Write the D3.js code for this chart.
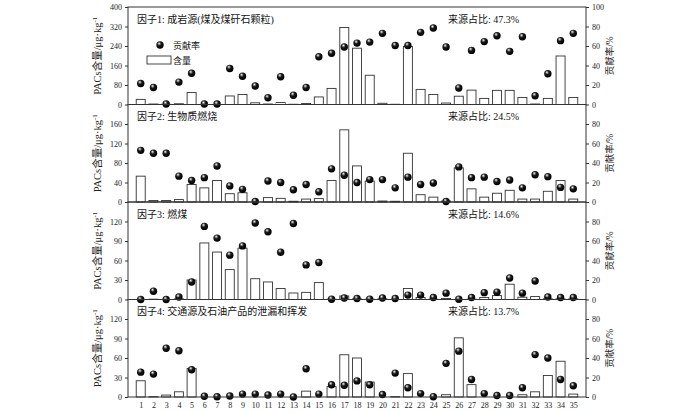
<!DOCTYPE html>
<html>
<head>
<meta charset="utf-8">
<script src="https://cdn.jsdelivr.net/npm/d3@7/dist/d3.min.js"></script>
<style>
  body { margin: 0; background: #fff; }
  text { font-family: "Liberation Serif", "Noto Sans CJK SC", serif; }
</style>
</head>
<body>
<div id="chart"></div>
<script>
// samples 1..35
const samples = [1, 2, 3, 4, 5, 6, 7, 8, 9, 10, 11, 12, 13, 14, 15, 16, 17, 18,
  19, 20, 21, 22, 23, 24, 25, 26, 27, 28, 29, 30, 31, 32, 33, 34, 35];

const factorNames = [
  '因子1: 成岩源(煤及煤矸石颗粒)',
  '因子2: 生物质燃烧',
  '因子3: 燃煤',
  '因子4: 交通源及石油产品的泄漏和挥发'
];
const sourceShares = ['47.3%', '24.5%', '14.6%', '13.7%'];

// PACs content, ug/kg (bars)
const content1 = [21, 2, 1, 3, 49, 0, 0, 35, 41, 7, 2, 8, 1, 4, 31, 66, 316, 231, 120, 5,
  1, 238, 62, 41, 6, 34, 59, 25, 58, 58, 29, 2, 25, 199, 29];
const content2 = [53, 3, 3, 5, 36, 29, 44, 17, 19, 0, 9, 7.5, 1.5, 6, 7, 44, 148, 74, 43, 2,
  1.5, 100, 15, 10, 2, 70, 27, 10, 18, 24, 6, 6, 22, 44, 6];
const content3 = [0, 0.5, 0, 1, 30, 87, 73, 46, 79, 32, 27, 17, 10, 11, 26, 0.5, 5.5, 1, 0.5, 1,
  0, 17, 3, 0.5, 1.5, 0, 0.5, 3, 6, 23.5, 3.5, 4.5, 1, 1, 1];
const content4 = [25, 0.5, 3, 8, 44, 0, 0, 0, 0, 0, 0, 0, 0, 9, 0, 16, 65, 60, 23, 0,
  0.5, 36, 0, 0, 3.5, 91, 19, 0, 0, 0, 3.5, 8, 33, 55, 4.5];

// contribution rate, % (balls)
const rate1 = [21.5, 17.5, 0.5, 23, 32, 0.5, 0.5, 37, 29, 19, 7, 28.5, 9.5, 17.5, 49, 52.5, 59, 63, 64, 73,
  60.5, 60.5, 74, 78.5, 59, 17, 55.5, 64.5, 70.5, 54.5, 69.5, 9, 31.5, 65.5, 73];
const rate2 = [53, 50, 50, 26.5, 22, 25, 37, 16.5, 13, 0.5, 21.5, 20, 12.5, 18, 10.5, 34, 27.5, 20, 23, 23,
  14.5, 25.5, 18, 19.5, 0.5, 36, 25, 25.5, 21, 22.5, 14.5, 28, 26, 15, 13.5];
const rate3 = [0, 8.5, 0, 2.5, 18, 75, 63, 45.5, 55, 78.5, 69.5, 48.5, 78, 35.5, 38, 0.3, 1.5, 1, 0.3, 1.5,
  1, 4.5, 4.5, 2, 6.5, 0.3, 2, 7, 7.5, 22, 6.5, 19, 2.5, 2, 2];
const rate4 = [25.5, 23.5, 50, 47.5, 28, 0.7, 0.3, 1, 3, 3, 2, 3, 0, 29, 3, 12.5, 12, 16.5, 12.5, 2.5,
  24.5, 9.5, 3.5, 0.3, 34.5, 47, 18, 3.5, 1.5, 1.5, 9.5, 43.5, 40, 18, 11.5];

const contents = [content1, content2, content3, content4];
const rates = [rate1, rate2, rate3, rate4];

// left axis (content) maximum and tick step per panel
const leftMax = [400, 200, 150, 150];
const leftStep = [80, 40, 30, 30];
const rightTicks = [0, 20, 40, 60, 80, 100];

const width = 700;
const height = 412;
const plotLeft = 128;
const plotRight = 586;
const plotTop = 7;
const panelH = 97.5;

const svg = d3.select('#chart')
  .append('svg')
  .attr('width', width)
  .attr('height', height);

/* ball shading */
const grad = svg.append('defs')
  .append('radialGradient')
  .attr('id', 'ball')
  .attr('cx', '40%').attr('cy', '35%').attr('r', '60%')
  .attr('fx', '38%').attr('fy', '30%');
grad.append('stop').attr('offset', '0%').attr('stop-color', '#ffffff');
grad.append('stop').attr('offset', '18%').attr('stop-color', '#9a9a9a');
grad.append('stop').attr('offset', '45%').attr('stop-color', '#1a1a1a');
grad.append('stop').attr('offset', '100%').attr('stop-color', '#000000');

const x = d3.scalePoint()
  .domain(samples)
  .range([plotLeft, plotRight])
  .padding(1);

const barW = 9;
const ballR = 3.7;

contents.forEach(function(data, p) {
  const top = plotTop + p * panelH;
  const bottom = top + panelH;

  const yL = d3.scaleLinear().domain([0, leftMax[p]]).range([bottom, top]);
  const yR = d3.scaleLinear().domain([0, 100]).range([bottom, top]);

  const g = svg.append('g');

  // left axis; the top label of lower panels hides under the panel above
  let lt = d3.range(0, leftMax[p] + 1, leftStep[p]);
  let rt = rightTicks.slice();
  if (p > 0) {
    lt = lt.slice(0, -1);
    rt = rt.slice(0, -1);
  }

  const axL = g.append('g')
    .attr('transform', `translate(${plotLeft},0)`)
    .call(d3.axisLeft(yL).tickValues(lt).tickSize(3).tickSizeOuter(0).tickPadding(3));
  const axR = g.append('g')
    .attr('transform', `translate(${plotRight},0)`)
    .call(d3.axisRight(yR).tickValues(rt).tickSize(3).tickSizeOuter(0).tickPadding(3));
  [axL, axR].forEach(function(a) {
    a.select('.domain').remove();
    a.selectAll('line').attr('stroke', '#333');
    a.selectAll('text').attr('font-size', 8).attr('fill', '#222')
      .style('font-family', '"Liberation Serif", serif');
  });

  // bars
  g.append('g')
    .selectAll('rect')
    .data(data)
    .enter()
    .append('rect')
    .attr('x', (d, i) => x(samples[i]) - barW / 2)
    .attr('y', d => yL(d))
    .attr('width', barW)
    .attr('height', d => bottom - yL(d))
    .attr('fill', '#fff')
    .attr('stroke', '#333')
    .attr('stroke-width', 0.9);

  // balls
  g.append('g')
    .selectAll('circle')
    .data(rates[p])
    .enter()
    .append('circle')
    .attr('cx', (d, i) => x(samples[i]))
    .attr('cy', d => yR(d))
    .attr('r', ballR)
    .attr('fill', 'url(#ball)');

  // frame
  g.append('rect')
    .attr('x', plotLeft)
    .attr('y', top)
    .attr('width', plotRight - plotLeft)
    .attr('height', panelH)
    .attr('fill', 'none')
    .attr('stroke', '#333')
    .attr('stroke-width', 1);

  g.append('text')
    .attr('x', 137)
    .attr('y', top + 15.5)
    .attr('font-size', 10)
    .attr('fill', '#111')
    .text(factorNames[p]);

  g.append('text')
    .attr('x', 448)
    .attr('y', top + 15.5)
    .attr('font-size', 10)
    .attr('fill', '#111')
    .text('来源占比: ' + sourceShares[p]);

  // axis titles
  const lTitle = g.append('text')
    .attr('transform', `translate(101,${top + panelH / 2}) rotate(-90)`)
    .attr('text-anchor', 'middle')
    .attr('font-size', 10.5)
    .attr('fill', '#222');
  lTitle.append('tspan').text('PACs含量/μg·kg');
  lTitle.append('tspan').attr('dy', -4).attr('font-size', 7).text('-1');

  g.append('text')
    .attr('transform', `translate(613,${top + panelH / 2}) rotate(-90)`)
    .attr('text-anchor', 'middle')
    .attr('font-size', 9.5)
    .attr('fill', '#222')
    .text('贡献率/%');
});

/* legend in first panel */
const legend = svg.append('g');
legend.append('circle')
  .attr('cx', 160)
  .attr('cy', 45)
  .attr('r', ballR)
  .attr('fill', 'url(#ball)');
legend.append('text')
  .attr('x', 173)
  .attr('y', 48.5)
  .attr('font-size', 9)
  .attr('fill', '#111')
  .text('贡献率');
legend.append('rect')
  .attr('x', 147)
  .attr('y', 56)
  .attr('width', 24)
  .attr('height', 8)
  .attr('fill', '#fff')
  .attr('stroke', '#333')
  .attr('stroke-width', 0.9);
legend.append('text')
  .attr('x', 173)
  .attr('y', 63.5)
  .attr('font-size', 9)
  .attr('fill', '#111')
  .text('含量');

/* sample numbers along the bottom */
const bottomY = plotTop + 4 * panelH;
const axB = svg.append('g')
  .attr('transform', `translate(0,${bottomY})`)
  .call(d3.axisBottom(x).tickSize(0).tickPadding(5));
axB.select('.domain').remove();
axB.selectAll('text').attr('font-size', 8).attr('fill', '#222')
  .style('font-family', '"Liberation Serif", serif');
</script>
</body>
</html>
